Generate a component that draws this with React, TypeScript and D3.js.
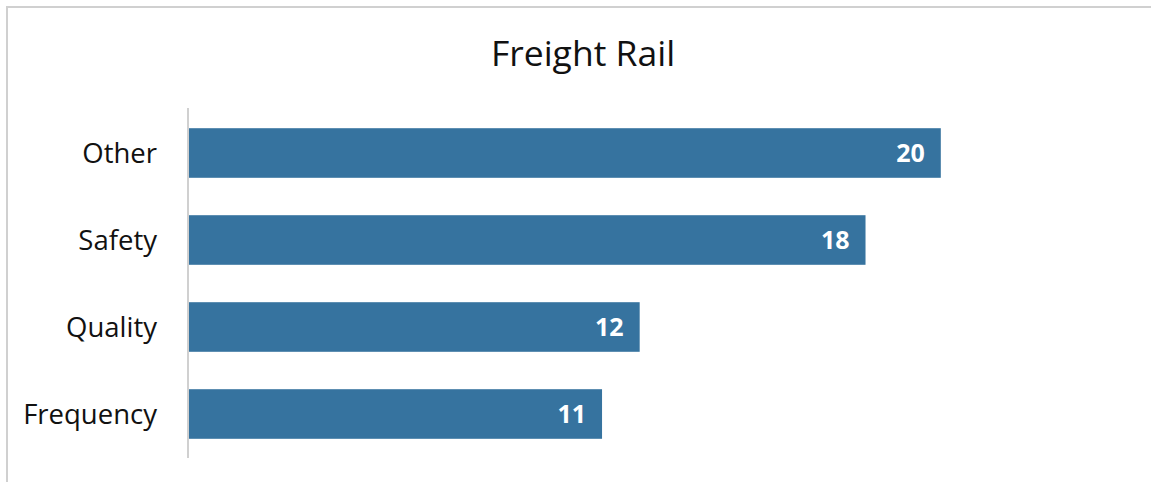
import React from "react";
import * as d3 from "d3";

const categories = ["Other", "Safety", "Quality", "Frequency"];
const values = [20, 18, 12, 11];
const title = "Freight Rail";

const W = 1151;
const H = 482;
const FONT = "'Open Sans', 'Noto Sans', sans-serif";

export default function App() {
  const x = d3.scaleLinear().domain([0, 25]).range([188, 1129]);
  const y = d3
    .scaleBand<string>()
    .domain(categories)
    .range([109.5, 457.5])
    .paddingInner(0.43)
    .paddingOuter(0.215);

  return (
    <svg
      width={W}
      height={H}
      style={{ position: "absolute", left: 0, top: 0, background: "#fff" }}
    >
      <rect x={7} y={7} width={W + 20} height={H + 20} fill="#fff" stroke="#d0d0d0" strokeWidth={2} />
      <text x={583} y={66} textAnchor="middle" fontFamily={FONT} fontSize={35.5} fill="#111">
        {title}
      </text>
      {categories.map((c, i) => (
        <g key={c}>
          <rect
            x={x(0)}
            y={y(c)!}
            width={x(values[i]) - x(0)}
            height={y.bandwidth()}
            fill="#36739f"
          />
          <text
            x={x(values[i]) - 16}
            y={y(c)! + y.bandwidth() / 2}
            dy="0.36em"
            textAnchor="end"
            fontFamily={FONT}
            fontWeight="bold"
            fontSize={25}
            fill="#fff"
          >
            {values[i]}
          </text>
          <text
            x={157}
            y={y(c)! + y.bandwidth() / 2}
            dy="0.36em"
            textAnchor="end"
            fontFamily={FONT}
            fontSize={27.5}
            fill="#111"
          >
            {c}
          </text>
        </g>
      ))}
      <line x1={188} x2={188} y1={108} y2={458} stroke="#d0d0d0" strokeWidth={2} />
    </svg>
  );
}
